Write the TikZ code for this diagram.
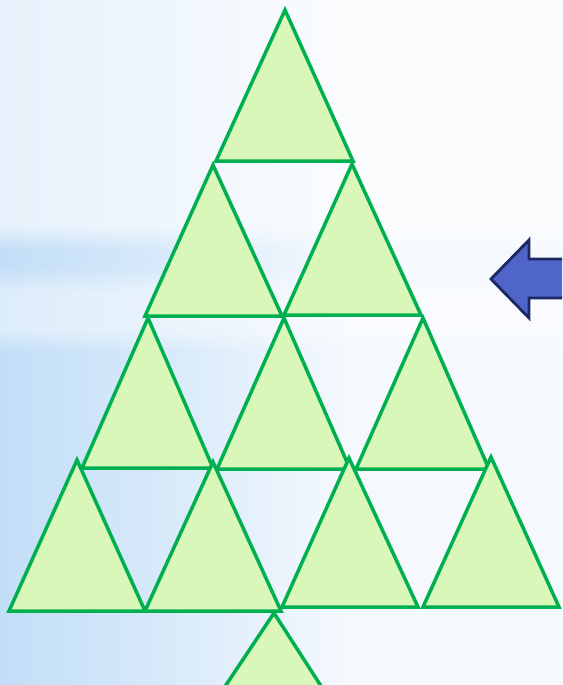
\documentclass[tikz,border=0pt]{standalone}
\usetikzlibrary{fadings}
\definecolor{bgL}{RGB}{194,222,247}
\definecolor{bgM}{RGB}{216,234,250}
\definecolor{bgR}{RGB}{245,249,254}
\definecolor{trifill}{RGB}{218,247,186}
\definecolor{triline}{RGB}{0,176,80}
\definecolor{arrfill}{RGB}{79,101,200}
\definecolor{arrline}{RGB}{28,40,100}
\pgfdeclarehorizontalshading{bgsh}{100bp}{color(0bp)=(bgL); color(25bp)=(bgL); color(40bp)=(bgM); color(56bp)=(bgR); color(100bp)=(bgR)}
\tikzset{
  tri/.style={fill=trifill, draw=triline, line width=3.5pt, line join=miter},
  arr/.style={fill=arrfill, draw=arrline, line width=2.8pt, line join=miter},
  wash/.style={fill=white, fill opacity=#1},
  wash/.default=0.6
}
\begin{document}
\begin{tikzpicture}[x=1pt,y=-1pt]
\useasboundingbox (0,0) rectangle (562,685);
\clip (0,0) rectangle (562,685);
% background
\shade[shading=bgsh] (0,0) rectangle (562,685);
\fill[wash=0.6] (0,0) rectangle (562,226);
\fill[wash=0.6, path fading=south] (0,226) rectangle (562,250);
\fill[wash=0.45, path fading=north] (0,266) rectangle (562,292);
\fill[wash=0.45] (0,292) rectangle (562,330);
\fill[wash=0.45, path fading=south] (0,330) rectangle (562,352);
% triangles
\path[tri] (285,10) -- (216,161) -- (353,161) -- cycle;
\path[tri] (213,165) -- (145,316) -- (282,316) -- cycle;
\path[tri] (352,164) -- (284,315) -- (421,315) -- cycle;
\path[tri] (148,318) -- (82,468) -- (213,468) -- cycle;
\path[tri] (284,318) -- (217,469) -- (350,469) -- cycle;
\path[tri] (423,318) -- (356,469) -- (489,469) -- cycle;
\path[tri] (77,460) -- (9,611) -- (145,611) -- cycle;
\path[tri] (213,462) -- (145,611) -- (281,611) -- cycle;
\path[tri] (349,458) -- (282,607) -- (418,607) -- cycle;
\path[tri] (491,457) -- (423,607) -- (559,607) -- cycle;
\path[tri] (274,613) -- (216,700) -- (330,700) -- cycle;
% arrow
\path[arr] (491,279) -- (529,240) -- (529,259) -- (575,259) -- (575,298) -- (529,298) -- (529,318) -- cycle;
\end{tikzpicture}
\end{document}
